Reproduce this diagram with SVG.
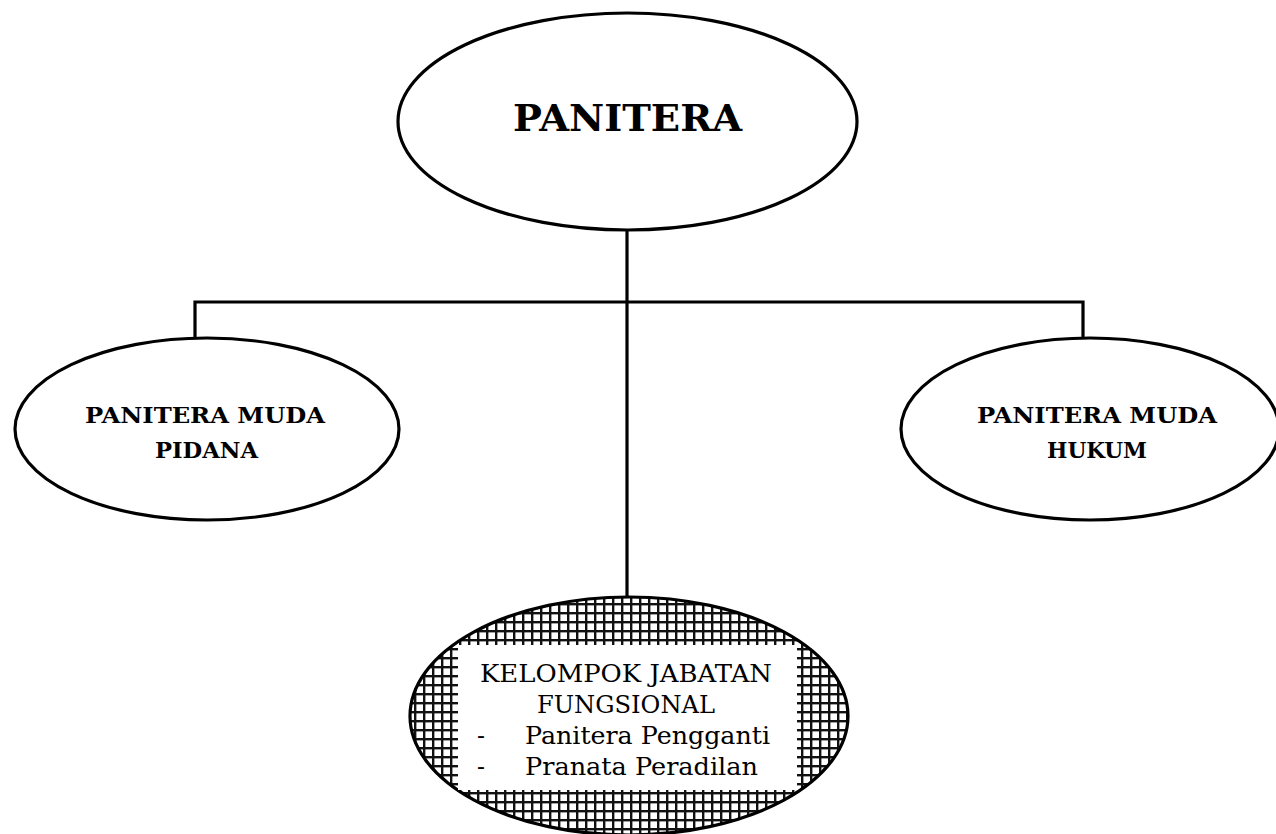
<svg xmlns="http://www.w3.org/2000/svg" width="1276" height="834" viewBox="0 0 1276 834">
<style>
.node{fill:#fff;stroke:#000;stroke-width:3.2}
.con{fill:none;stroke:#000;stroke-width:3.2}
.b{font-family:"DejaVu Serif","Liberation Serif",serif;font-weight:bold;fill:#000}
.r{font-family:"DejaVu Serif","Liberation Serif",serif;fill:#000}
</style>
<defs>
<pattern id="grid" width="9" height="9" patternUnits="userSpaceOnUse">
<rect width="9" height="9" fill="#fff"/>
<rect x="0" y="0" width="9" height="2.4" fill="#111"/>
<rect x="0" y="0" width="2.4" height="9" fill="#111"/>
</pattern>
</defs>
<rect width="1276" height="834" fill="#fff"/>
<g id="connectors">
<line class="con" x1="627" y1="230" x2="627" y2="598"/>
<polyline class="con" points="195,339 195,302 1083,302 1083,339"/>
</g>
<g id="panitera">
<ellipse class="node" cx="627.5" cy="121.5" rx="229.5" ry="108.5"/>
<text class="b" x="513" y="131" font-size="38" textLength="229" lengthAdjust="spacingAndGlyphs">PANITERA</text>
</g>
<g id="pm-pidana">
<ellipse class="node" cx="207" cy="429" rx="192" ry="91"/>
<text class="b" x="85" y="423" font-size="22" textLength="240" lengthAdjust="spacingAndGlyphs">PANITERA MUDA</text>
<text class="b" x="155" y="458" font-size="22" textLength="103" lengthAdjust="spacingAndGlyphs">PIDANA</text>
</g>
<g id="pm-hukum">
<ellipse class="node" cx="1090" cy="429" rx="189" ry="91"/>
<text class="b" x="977" y="423" font-size="22" textLength="240" lengthAdjust="spacingAndGlyphs">PANITERA MUDA</text>
<text class="b" x="1047" y="458" font-size="22" textLength="100" lengthAdjust="spacingAndGlyphs">HUKUM</text>
</g>
<g id="fungsional">
<ellipse cx="629" cy="716" rx="219" ry="119" fill="url(#grid)" stroke="#000" stroke-width="3.2"/>
<rect x="458" y="645" width="339" height="145" fill="#fff"/>
<text class="r" x="480" y="682" font-size="23.5" textLength="292" lengthAdjust="spacingAndGlyphs">KELOMPOK JABATAN</text>
<text class="r" x="537" y="713" font-size="23.5" textLength="178" lengthAdjust="spacingAndGlyphs">FUNGSIONAL</text>
<text class="r" x="477" y="744" font-size="23.5">-</text>
<text class="r" x="525" y="744" font-size="23.5" textLength="245" lengthAdjust="spacingAndGlyphs">Panitera Pengganti</text>
<text class="r" x="477" y="775" font-size="23.5">-</text>
<text class="r" x="525" y="775" font-size="23.5" textLength="233" lengthAdjust="spacingAndGlyphs">Pranata Peradilan</text>
</g>
</svg>
